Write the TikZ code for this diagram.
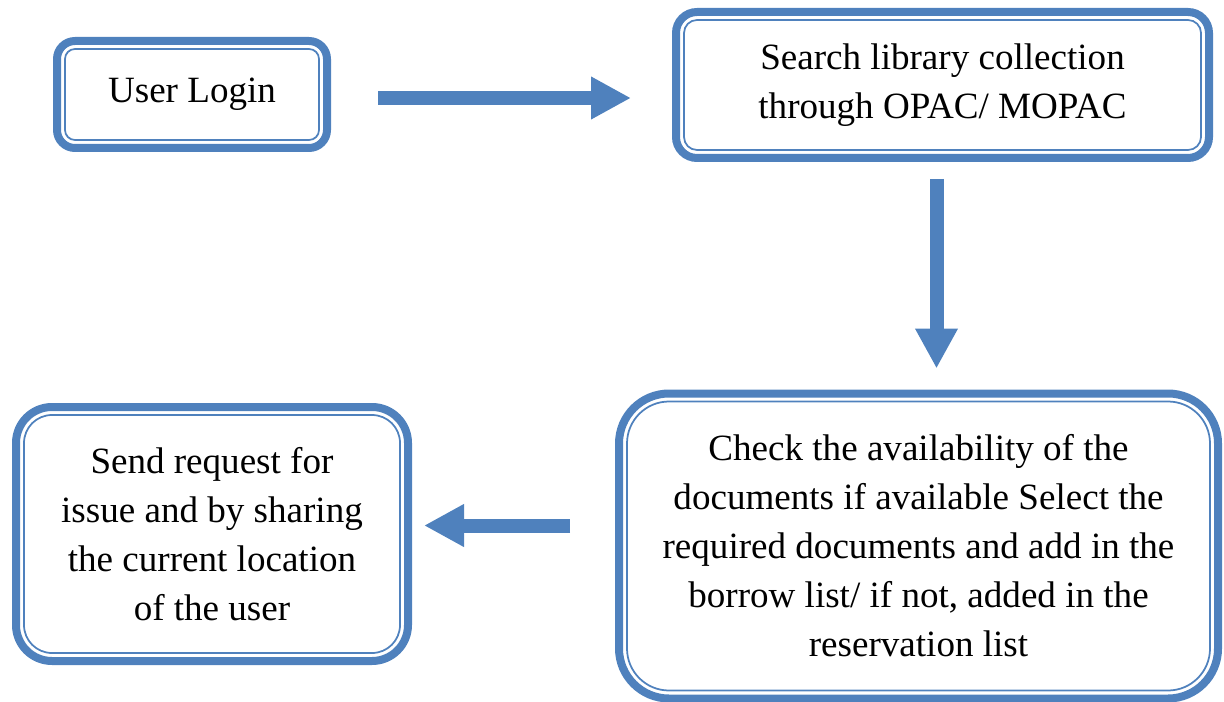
\documentclass[tikz,border=0pt]{standalone}
\usepackage{fontspec}
\setmainfont{Liberation Serif}
\usetikzlibrary{arrows.meta}
\definecolor{accent}{RGB}{79,129,189}
\tikzset{
  framed/.style={draw=accent, line width=0.16cm, rounded corners=#1, align=center, inner sep=0pt,
    font=\fontsize{21.1}{27.9}\selectfont},
  innerline/.style={draw=accent, line width=0.035cm, rounded corners=#1},
}
\begin{document}
\begin{tikzpicture}
        \useasboundingbox (0,0) rectangle (24.48,14.02);
        \begin{scope}
                \node [framed=0.36cm, minimum width=5.4cm, minimum height=2.14cm] (UL) at (3.84,12.13) {User Login};
                \node [framed=0.42cm, minimum width=10.66cm, minimum height=2.92cm] (S) at (18.85,12.32) {Search library collection\\through OPAC/ MOPAC};
                \node [framed=1.0cm, minimum width=11.98cm, minimum height=6.1cm] (C) at (18.37,3.1) {Check the availability of the\\documents if available Select the\\required documents and add in the\\borrow list/ if not, added in the\\reservation list};
                \node [framed=0.72cm, minimum width=7.84cm, minimum height=5.08cm] (R) at (4.24,3.34) {Send request for\\issue and by sharing\\the current location\\of the user};
                % thin second line inside each frame
                \foreach \n/\r in {UL/0.2cm, S/0.26cm, C/0.84cm, R/0.56cm}
                        \path [innerline=\r] ([shift={(0.24cm,0.24cm)}]\n.south west) rectangle ([shift={(-0.24cm,-0.24cm)}]\n.north east);
        \end{scope}

        \begin{scope}[every path/.style={draw=accent, line width=0.28cm, -{Triangle[width=0.8cm,length=0.8cm]}}]
                \path [shorten <=0.94cm, shorten >=0.82cm] ([yshift=-0.07cm]UL.east) -- ([yshift=-0.07cm]UL.east -| S.west);
                \path [shorten <=0.34cm, shorten >=0.42cm] ([xshift=-0.12cm]S.south) -- ([xshift=-0.12cm]S.south |- C.north);
                \path [shorten <=0.9cm, shorten >=0.24cm] ([yshift=0.41cm]C.west) -- ([yshift=0.41cm]C.west -| R.east);
        \end{scope}
\end{tikzpicture}
\end{document}
